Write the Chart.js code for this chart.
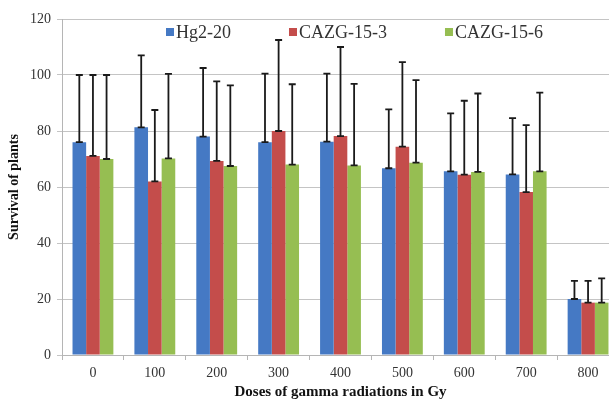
<!DOCTYPE html>
<html>
<head>
<meta charset="utf-8">
<script src="https://cdn.jsdelivr.net/npm/chart.js@4.4.0/dist/chart.umd.min.js"></script>
<style>
  html, body { margin: 0; padding: 0; background: #fff; overflow: hidden; }
  #wrap { width: 626px; height: 401px; }
</style>
</head>
<body>
<div id="wrap"><canvas id="myChart"></canvas></div>
<script>
// doses of gamma radiation (Gy)
const doses = ['0', '100', '200', '300', '400', '500', '600', '700', '800'];

// mean survival of plants
const hg220 = [76, 81.3, 78, 76, 76.2, 66.7, 65.6, 64.5, 20];
const cazg153 = [71.1, 62, 69.3, 80, 78.2, 74.4, 64.4, 58.2, 18.7];
const cazg156 = [70, 70.2, 67.5, 68, 67.7, 68.7, 65.4, 65.6, 18.7];

// error bar sizes (only the upper bar is drawn)
const hg220Err = [24, 25.7, 24.5, 24.5, 24.3, 21, 20.7, 20.1, 6.5];
const cazg153Err = [28.9, 25.5, 28.4, 32.5, 31.8, 30.2, 26.4, 23.9, 7.8];
const cazg156Err = [30, 30.2, 28.8, 28.7, 29.1, 29.5, 28, 28.1, 8.7];

const yTicks = [0, 20, 40, 60, 80, 100, 120];

const serif = '"Liberation Serif", "DejaVu Serif", serif';

// upper error bars with caps at both ends
const errorBarPlugin = {
  id: 'errorBars',
  afterDatasetsDraw(chart) {
    const ctx = chart.ctx;
    const yScale = chart.scales.y;
    ctx.save();
    ctx.strokeStyle = '#1a1a1a';
    ctx.lineWidth = 1.8;
    chart.data.datasets.forEach((ds, i) => {
      const meta = chart.getDatasetMeta(i);
      meta.data.forEach((bar, j) => {
        const v = ds.data[j];
        const y0 = yScale.getPixelForValue(v);
        const y1 = yScale.getPixelForValue(v + ds.errors[j]);
        const x = bar.x;
        ctx.beginPath();
        ctx.moveTo(x, y0); ctx.lineTo(x, y1);
        ctx.moveTo(x - 3.5, y1); ctx.lineTo(x + 3.5, y1);
        ctx.moveTo(x - 3.5, y0); ctx.lineTo(x + 3.5, y0);
        ctx.stroke();
      });
    });
    ctx.restore();
  }
};

// legend drawn inside the plot area
const innerLegendPlugin = {
  id: 'innerLegend',
  afterDraw(chart) {
    const ctx = chart.ctx;
    ctx.save();
    ctx.font = '18px ' + serif;
    ctx.textBaseline = 'middle';
    let x = 166;
    const y = 32;
    chart.data.datasets.forEach(ds => {
      ctx.fillStyle = ds.backgroundColor;
      ctx.fillRect(x, y - 4, 8, 8);
      ctx.fillStyle = '#333';
      ctx.fillText(ds.label, x + 10, y + 1);
      x += 10 + ctx.measureText(ds.label).width + 58;
    });
    ctx.restore();
  }
};

const ctx = document.getElementById('myChart');

window.myChart = new Chart(ctx, {
  type: 'bar',
  data: {
    labels: doses,
    datasets: [
      { label: 'Hg2-20', data: hg220, errors: hg220Err, backgroundColor: '#4579C4' },
      { label: 'CAZG-15-3', data: cazg153, errors: cazg153Err, backgroundColor: '#C44D4B' },
      { label: 'CAZG-15-6', data: cazg156, errors: cazg156Err, backgroundColor: '#96BE52' }
    ]
  },
  options: {
    responsive: true,
    maintainAspectRatio: false,
    animation: false,
    datasets: {
      bar: { categoryPercentage: 0.66, barPercentage: 1.0 }
    },
    layout: { padding: { top: 19, right: 7, left: 6, bottom: 0 } },
    plugins: {
      legend: { display: false },
      tooltip: { enabled: false }
    },
    scales: {
      x: {
        afterFit(scale) {
          scale.height = 46;
        },
        grid: {
          offset: true,
          drawOnChartArea: false,
          drawTicks: true,
          tickLength: 5,
          color: '#b5b5b5'
        },
        border: { color: '#b5b5b5' },
        ticks: {
          color: '#333',
          font: { family: serif, size: 14 },
          padding: 5
        },
        title: {
          display: true,
          text: 'Doses of gamma radiations in Gy',
          color: '#111',
          font: { family: serif, size: 15, weight: 'bold' },
          padding: { top: 0, bottom: 0 }
        }
      },
      y: {
        min: 0,
        max: 120,
        afterBuildTicks(scale) {
          scale.ticks = yTicks.map(v => ({ value: v }));
        },
        afterFit(scale) {
          scale.width = 56;
        },
        grid: {
          color: '#c4c4c4',
          tickLength: 5
        },
        border: { color: '#b5b5b5' },
        ticks: {
          color: '#333',
          font: { family: serif, size: 14 },
          padding: 6
        },
        title: {
          display: true,
          text: 'Survival of plants',
          color: '#111',
          font: { family: serif, size: 14, weight: 'bold' },
          padding: { top: 0, bottom: 4 }
        }
      }
    }
  },
  plugins: [errorBarPlugin, innerLegendPlugin]
});
</script>
</body>
</html>
